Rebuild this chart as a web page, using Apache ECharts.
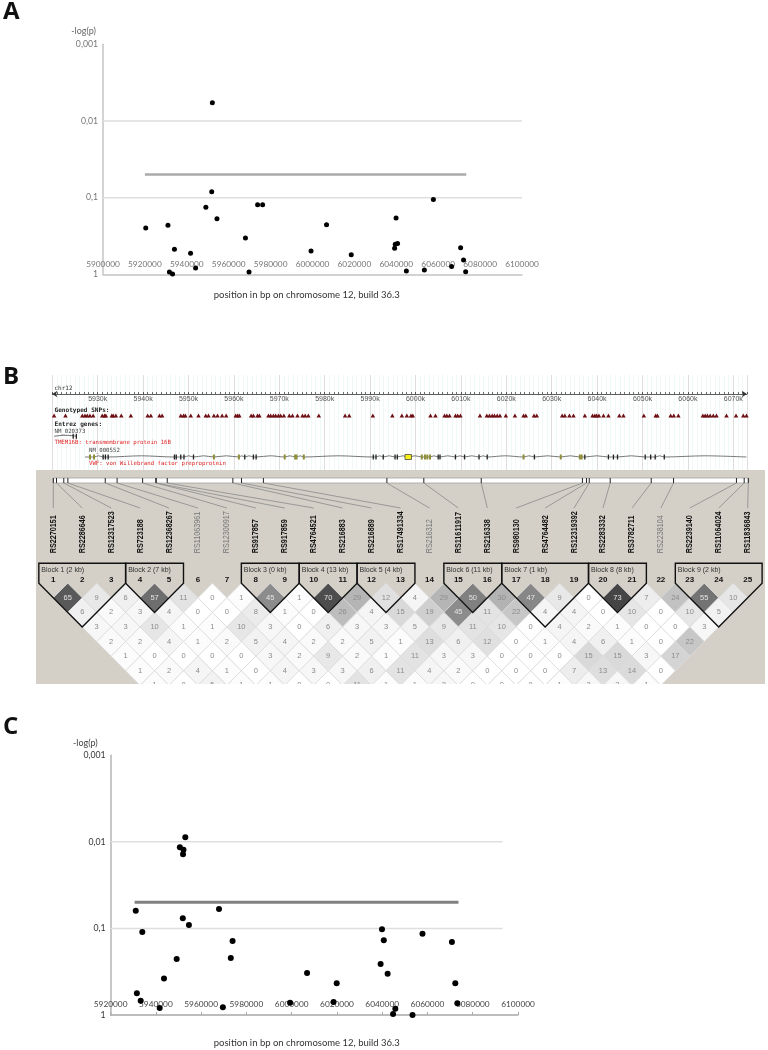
<!DOCTYPE html>
<html><head><meta charset="utf-8">
<style>html,body{margin:0;padding:0;background:#fff}#c{width:768px;height:1050px}</style>
<script src="https://cdn.jsdelivr.net/npm/echarts@6/dist/echarts.min.js"></script>
</head><body><div id="c"></div>
<script>
// ---------- Panel A ----------
const posA = [5920400,5931000,5931700,5933200,5934100,5941800,5944200,5949100,5951900,5952200,5954400,5968000,5969700,5973800,5976200,5999300,6006700,6018500,6039200,6039500,6039900,6040600,6044800,6053400,6057700,6066400,6070700,6072100,6073100];
const pA = [0.249,0.2296,0.932,0.99,0.472,0.532,0.827,0.1337,0.0835,0.00577,0.188,0.336,0.932,0.1234,0.1234,0.496,0.225,0.554,0.458,0.406,0.184,0.398,0.905,0.878,0.106,0.794,0.449,0.65,0.923];
// ---------- Panel C ----------
const posC = [5931100,5931600,5933300,5934000,5941700,5943600,5949200,5950600,5952200,5952000,5953000,5951900,5954600,5967900,5969600,5973100,5973900,5999300,6006800,6018500,6019900,6039300,6039900,6040700,6042400,6044800,6045800,6053400,6057800,6070800,6072300,6073200];
const pC = [0.0623,0.562,0.683,0.11,0.83,0.38,0.2255,0.01156,0.0123,0.01393,0.00887,0.0764,0.0913,0.0596,0.815,0.2196,0.1397,0.72,0.327,0.708,0.431,0.2576,0.1023,0.1373,0.333,0.974,0.845,1,0.115,0.1435,0.431,0.733];
const yTickLabels = ['1','0,1','0,01','0,001'];
const threshold = 0.05;
const thresholdA = [5920000,6073400];
const thresholdC = [5930600,6073700];
const gridLevels = [0.01,0.1];
const gridEndA = 6100000, gridEndC = 6093200;
const xTitle = 'position in bp on chromosome 12, build 36.3';
const yTitle = '-log(p)';
// ---------- Panel B track (kb) ----------
const snpKb = [5920.4,5922.9,5926.6,5927.2,5927.7,5928.3,5929.0,5931.0,5931.5,5931.8,5933.1,5933.4,5934.0,5935.2,5937.3,5941.0,5941.7,5943.6,5944.2,5948.3,5948.9,5949.3,5950.5,5952.2,5953.8,5954.4,5955.6,5956.4,5957.4,5958.3,5960.4,5960.8,5961.2,5963.8,5964.3,5965.2,5965.6,5967.6,5968.1,5968.7,5969.2,5969.8,5970.3,5971.0,5972.2,5972.9,5974.0,5975.1,5975.7,5976.4,5978.7,5984.5,5985.4,5990.6,5994.9,5997.0,5998.1,5999.0,5999.4,6003.3,6004.4,6006.4,6006.9,6007.5,6008.8,6009.3,6009.9,6014.2,6015.7,6016.3,6016.9,6017.4,6018.0,6018.6,6019.9,6021.9,6023.8,6024.3,6026.1,6026.7,6032.3,6032.9,6033.9,6034.8,6037.3,6039.0,6039.5,6039.9,6040.4,6041.4,6042.5,6044.9,6045.8,6050.3,6052.9,6053.3,6056.2,6056.9,6057.9,6063.3,6063.8,6064.3,6064.9,6065.6,6066.3,6068.5,6070.6,6072.2,6072.9];
const vwfExonsDark = [5931.2,5931.7,5932.3,5946.9,5947.3,5948.3,5949.0,5951.1,5962.4,5964.3,5964.9,5990.7,5991.3,5992.9,5995.5,5996.0,6005.0,6005.4,6008.8,6010.8,6014.0,6015.8,6026.2,6037.3,6042.5,6043.6,6044.5,6050.6,6051.8,6052.8,6054.8];
const vwfExonsOlive = [5928.3,5929.2,5955.6,5961.1,5971.2,5973.5,5973.8,5975.4,6001.4,6002.1,6002.6,6003.2,6023.8,6032.0,6036.2,6036.6];
const vwfBigExon = [5998.4];
const vwfSpan = [5927.2,6072.9];
const tmemSpan = [5920.4,5925.4];
const tmemExons = [5924.6,5925.3];
// ---------- Panel B LD matrix ----------
const rsLabels = ['RS2270151','RS2286646','RS12317523','RS723188','RS12368267','RS11063961','RS12300917','RS917857','RS917859','RS4764521','RS216883','RS216889','RS17491334','RS216312','RS11611917','RS216338','RS980130','RS4764482','RS12319392','RS2283332','RS3782711','RS2238104','RS2239140','RS11064024','RS11836843'];
const rsExcluded = [6,7,14,22];
const barKb = [5920.4,5921.1,5922.7,5923.6,5931.8,5934.4,5940.0,5942.9,5943.0,5945.4,5959.8,5961.7,5966.5,5993.6,6001.7,6014.3,6036.5,6037.4,6038.0,6042.6,6051.6,6056.5,6070.3,6072.0,6072.9];
const ldDist1 = [65,9,6,57,11,0,1,45,1,70,29,12,4,29,50,30,47,9,0,73,7,24,55,10];
const ldDist2 = [6,2,3,4,0,0,8,1,0,26,4,15,19,45,11,22,4,4,0,10,0,10,5];
const ldDist3 = [3,3,10,1,1,10,3,0,6,3,3,5,9,11,10,0,4,2,1,0,0,3];
const ldDist4 = [2,2,4,1,2,5,4,2,2,5,1,13,6,12,0,1,4,6,1,0,22];
const ldDist5 = [1,0,0,0,0,3,2,9,2,1,11,3,3,0,0,0,15,15,3,17];
const ldDist6 = [1,2,4,1,0,4,3,3,6,11,4,2,0,0,0,7,13,14,0];
const ldDist7 = [1,0,5,1,1,0,0,11,1,1,3,0,0,0,1,3,3,1];
const blockFirst = [1,4,8,10,12,15,17,20,23];
const blockLast  = [3,5,9,11,13,16,19,21,25];
const blockKb    = [2,7,0,13,4,11,1,8,2];

// ---------- helpers ----------
const sansFont = 'Lato, "Open Sans", sans-serif';
const mono = '"DejaVu Sans Mono",monospace';
const ldRows = [ldDist1,ldDist2,ldDist3,ldDist4,ldDist5,ldDist6,ldDist7];
const ldCells = [];
ldRows.forEach((row,r)=>row.forEach((v,k)=>{const d=r+1,i=k+1;ldCells.push([i+d/2,d,v]);}));
const zip = (a,b)=>a.map((v,i)=>[v,b[i]]);
const yTickFmt = v=>yTickLabels[Math.round(-Math.log10(v))];
const rowSnp = 40.4, rowGene = 82, rowTmem = 61.3;
const geneLine = (()=>{
  const all=[vwfSpan[0],...vwfExonsDark,...vwfExonsOlive,...vwfBigExon,vwfSpan[1]].sort((a,b)=>a-b);
  const pts=[];
  all.forEach((k,i)=>{pts.push([k,rowGene]);
    if(i<all.length-1&&all[i+1]-k>1.2)pts.push([(k+all[i+1])/2,rowGene-1.2]);});
  return pts;})();
const colToKb = c=>5920.4+(c-1)*28.93/4.557;

function scatterPanel(ax,pos,p,size,thr,thrColor,thrW,gridStart,gridEnd,gridColor){
  const out=[];
  gridLevels.forEach(l=>out.push({type:'line',xAxisIndex:ax,yAxisIndex:ax,silent:true,showSymbol:false,
    data:[[gridStart,l],[gridEnd,l]],lineStyle:{color:gridColor,width:1.5},z:1}));
  out.push({type:'line',xAxisIndex:ax,yAxisIndex:ax,silent:true,showSymbol:false,
    data:[[thr[0],threshold],[thr[1],threshold]],lineStyle:{color:thrColor,width:thrW},z:2});
  out.push({type:'scatter',xAxisIndex:ax,yAxisIndex:ax,data:zip(pos,p),symbol:'circle',symbolSize:size,
    itemStyle:{color:'#000',opacity:1},z:5});
  return out;
}
function panelX(idx,min,color,axisColor,margin,tick){
  return {gridIndex:idx,type:'value',min:min,max:6100000,interval:20000,position:'bottom',
    axisLine:{show:true,onZero:false,lineStyle:{color:axisColor,width:1.5}},
    axisTick:{show:tick,inside:true,length:3,lineStyle:{color:axisColor}},
    splitLine:{show:false},
    axisLabel:{inside:true,margin:margin,color:color,fontFamily:sansFont,fontSize:8.3,hideOverlap:false,showMinLabel:true,showMaxLabel:true,formatter:v=>String(v)}};
}
function panelY(idx,color,axisColor){
  return {gridIndex:idx,type:'log',logBase:10,min:0.001,max:1,inverse:true,
    axisLine:{show:true,onZero:false,lineStyle:{color:axisColor,width:1.5}},axisTick:{show:false},
    minorTick:{show:false},splitLine:{show:false},
    axisLabel:{color:color,fontFamily:sansFont,fontSize:8.7,margin:5,formatter:yTickFmt}};
}
const txt=(text,x,y,font,fill,align)=>({type:'text',x:x,y:y,silent:true,z:20,
  style:{text:text,font:font,fill:fill,textAlign:align||'left',textVerticalAlign:'middle',align:align||'left',verticalAlign:'middle'}});

const option={
  animation:false,backgroundColor:'#fff',
  grid:[
    {left:103,top:44.3,width:419,height:230},
    {left:110.6,top:755.3,width:407.4,height:259.7},
    {left:52.3,top:375,width:694.6,height:95},
    {left:36,top:470,width:729,height:214,show:true,backgroundColor:'#d4d0c8',borderWidth:0},
    {left:53.3,top:478,width:695,height:30}
  ],
  xAxis:[
    panelX(0,5900000,'#777','#c4c4c4',6,false),
    panelX(1,5920000,'#444','#a8a8a8',7,true),
    {gridIndex:2,type:'value',min:5920,max:6073,interval:10,position:'top',offset:-19,
      axisLine:{show:true,onZero:false,symbol:['arrow','arrow'],symbolSize:[5,5],symbolOffset:[0,0],lineStyle:{color:'#333',width:0.8}},
      axisTick:{show:true,inside:false,length:2,lineStyle:{color:'#333',width:0.8}},
      minorTick:{show:true,splitNumber:10,length:2,lineStyle:{color:'#333',width:0.7}},
      minorSplitLine:{show:true,lineStyle:{color:'#f1f8f8',width:1}},
      splitLine:{show:true,lineStyle:{color:'#dedede',width:1}},
      axisLabel:{inside:true,margin:2,color:'#555',fontFamily:'"Liberation Sans",sans-serif',fontSize:7,showMinLabel:false,showMaxLabel:false,hideOverlap:false,formatter:v=>v+'k'}},
    {gridIndex:3,type:'value',min:0.402,max:25.6,show:false},
    {gridIndex:4,type:'value',min:5920.4,max:6072.9,show:false}
  ],
  yAxis:[
    panelY(0,'#777','#c4c4c4'),
    panelY(1,'#333','#b4b4b4'),
    {gridIndex:2,type:'value',min:0,max:95,inverse:true,show:false},
    {gridIndex:3,type:'value',min:-7.75,max:6.904,inverse:true,show:false},
    {gridIndex:4,type:'value',min:0,max:30,inverse:true,show:false}
  ],
  series:[
    ...scatterPanel(0,posA,pA,5,thresholdA,'#aaaaaa',2.5,5900000,gridEndA,'#dedede'),
    ...scatterPanel(1,posC,pC,6,thresholdC,'#808080',3,5920000,gridEndC,'#dedede'),
    // track
    {type:'scatter',xAxisIndex:2,yAxisIndex:2,data:snpKb.map(k=>[k,rowSnp]),symbol:'triangle',symbolSize:[4.5,4],
      itemStyle:{color:'#6e0f14',opacity:1},z:5},
    {type:'line',xAxisIndex:2,yAxisIndex:2,silent:true,showSymbol:false,smooth:0.3,data:geneLine,lineStyle:{color:'#555',width:0.8},z:4},
    {type:'line',xAxisIndex:2,yAxisIndex:2,silent:true,showSymbol:false,smooth:0.5,
      data:[[tmemSpan[0],rowTmem],[(tmemSpan[0]+tmemSpan[1])/2,rowTmem-1],[tmemSpan[1],rowTmem]],lineStyle:{color:'#444',width:0.8},z:4},
    {type:'custom',xAxisIndex:2,yAxisIndex:2,silent:true,z:6,
      data:[...vwfExonsDark.map(k=>[k,rowGene,0]),...tmemExons.map(k=>[k,rowTmem,0]),...vwfExonsOlive.map(k=>[k,rowGene,1]),...vwfBigExon.map(k=>[k,rowGene,2])],
      renderItem:(p,api)=>{const c=api.coord([api.value(0),api.value(1)]),t=api.value(2);
        const w=[1.3,2,6.5][t],h=[5,5,5][t];
        return {type:'rect',shape:{x:c[0]-w/2,y:c[1]-h/2,width:w,height:h},
          style:{fill:['#222','#8f8f3a','#f7ee1a'][t],stroke:t==2?'#333':null,lineWidth:t==2?0.7:0}};}},
    // LD cells
    {type:'custom',xAxisIndex:3,yAxisIndex:3,silent:true,clip:true,z:3,data:ldCells,
      renderItem:(p,api)=>{const x=api.value(0),d=api.value(1),v=api.value(2);
        const pts=[[x,d-1],[x+.5,d],[x,d+1],[x-.5,d]].map(q=>api.coord(q));
        const g=Math.round(255*(1-v/100));const c=api.coord([x,d]);
        return {type:'group',children:[
          {type:'polygon',shape:{points:pts},style:{fill:`rgb(${g},${g},${g})`,stroke:'#dcdcdc',lineWidth:0.8}},
          {type:'text',x:c[0],y:c[1],style:{text:String(v),font:'7.5px "Liberation Sans",sans-serif',fill:v>=40?'#e4e4e4':'#8c8c8c',align:'center',verticalAlign:'middle'}}
        ]};}},
    // block outlines, titles
    {type:'custom',xAxisIndex:3,yAxisIndex:3,silent:true,z:6,data:blockFirst.map((a,i)=>[a,blockLast[i],blockKb[i],i+1]),
      renderItem:(p,api)=>{const a=api.value(0),b=api.value(1),top=-1.36;
        const pts=[[a-.5,top],[b+.5,top],[b+.5,0],[(a+b)/2,b-a+1],[a-.5,0]].map(q=>api.coord(q));
        const t=api.coord([a-.5,top]);
        return {type:'group',children:[
          {type:'polygon',shape:{points:pts},style:{fill:null,stroke:'#111',lineWidth:1.4}},
          {type:'text',x:t[0]+2.5,y:t[1]+6.7,style:{text:`Block ${api.value(3)} (${api.value(2)} kb)`,font:'7px "Liberation Sans",sans-serif',fill:'#333',align:'left',verticalAlign:'middle'}}
        ]};}},
    // SNP numbers and rs labels
    {type:'custom',xAxisIndex:3,yAxisIndex:3,silent:true,z:7,data:rsLabels.map((s,i)=>[i+1]),
      renderItem:(p,api)=>{const n=api.value(0),c=api.coord([n,-0.2]),r=api.coord([n,-2.05]);
        const ex=rsExcluded.includes(n);
        return {type:'group',children:[
          {type:'text',x:c[0],y:c[1],style:{text:String(n),font:'bold 8px "Liberation Sans",sans-serif',fill:'#111',align:'center',verticalAlign:'middle'}},
          {type:'text',x:r[0],y:r[1],rotation:Math.PI/2,scaleX:0.8,style:{text:rsLabels[n-1],font:(ex?'':'bold ')+'9px "Liberation Sans",sans-serif',fill:ex?'#777':'#111',align:'left',verticalAlign:'middle'}}
        ]};}},
    // map bar + connectors
    {type:'custom',xAxisIndex:4,yAxisIndex:4,silent:true,z:4,data:[[barKb[0],barKb[barKb.length-1]]],
      renderItem:(p,api)=>{const a=api.coord([api.value(0),0]),b=api.coord([api.value(1),5]);
        return {type:'rect',shape:{x:a[0],y:a[1],width:b[0]-a[0],height:b[1]-a[1]},style:{fill:'#fff',stroke:'#999',lineWidth:0.7}};}},
    {type:'custom',xAxisIndex:4,yAxisIndex:4,silent:true,z:5,data:barKb.map((k,i)=>[k,i+1]),
      renderItem:(p,api)=>{const k=api.value(0),n=api.value(1);
        const a=api.coord([k,0]),b=api.coord([k,5]),e=api.coord([colToKb(n),30]);
        return {type:'group',children:[
          {type:'line',shape:{x1:a[0],y1:a[1],x2:b[0],y2:b[1]},style:{stroke:'#222',lineWidth:1}},
          {type:'line',shape:{x1:b[0],y1:b[1],x2:e[0],y2:e[1]},style:{stroke:'#8a8a8a',lineWidth:0.8}}
        ]};}}
  ],
  graphic:{elements:[
    txt('A',3,12,'bold 24px "Open Sans",sans-serif','#111'),
    txt('B',3,377,'bold 24px "Open Sans",sans-serif','#111'),
    txt('C',3,727,'bold 24px "Open Sans",sans-serif','#111'),
    txt(yTitle,83.6,31,'9px '+sansFont,'#666','center'),
    txt(yTitle,85.4,743,'9px '+sansFont,'#444','center'),
    txt(xTitle,306.8,294.7,'9.5px '+sansFont,'#333','center'),
    txt(xTitle,306.8,1042.7,'9.5px '+sansFont,'#333','center'),
    txt('chr12',54.5,388.3,'6px '+mono,'#333'),
    txt('Genotyped SNPs:',54.5,410.7,'bold 6.1px '+mono,'#222'),
    txt('Entrez genes:',54.5,424.3,'bold 6.1px '+mono,'#222'),
    txt('NM_020373',54.5,431.3,'5.7px '+mono,'#444'),
    txt('TMEM16B: transmembrane protein 16B',54.5,442.7,'5.7px '+mono,'#e02020'),
    txt('NM_000552',89,451,'5.7px '+mono,'#444'),
    txt('VWF: von Willebrand factor preproprotein',89,463.7,'5.7px '+mono,'#e02020')
  ]}
};
const chart=echarts.init(document.getElementById('c'),null,{renderer:'canvas'});
chart.setOption(option);
</script></body></html>
